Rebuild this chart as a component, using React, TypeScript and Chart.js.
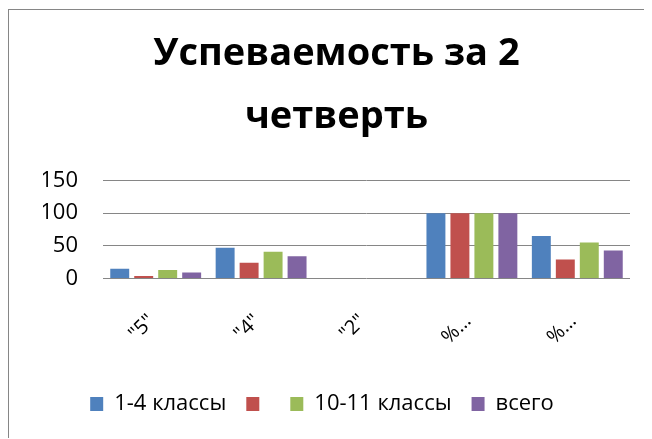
import React, { useEffect, useRef } from "react";
import { Chart, registerables } from "chart.js";

Chart.register(...registerables);

const titleLines = ["Успеваемость за 2", "четверть"];
const categories = ['"5"', '"4"', '"2"', "% успеваемости", "% качества"];
const seriesNames = ["1-4 классы", "", "10-11 классы", "всего"];
const series14 = [15, 47, 0, 100, 65];
const series59 = [4, 24, 0, 100, 29];
const series1011 = [13, 41, 0, 100, 55];
const seriesAll = [9, 34, 0, 100, 43];
const yTicks = [0, 50, 100, 150];
const colors = ["#4F81BD", "#C0504D", "#9BBB59", "#8064A2"];

const FONT = "'Open Sans', sans-serif";

// shifts the legend box so it is centred a little left of the title, as in the original
const legendShift = {
  id: "legendShift",
  afterLayout(chart: any) {
    if (chart.legend) {
      chart.legend.left = 5;
    }
  },
};

export default function App() {
  const ref = useRef<HTMLCanvasElement | null>(null);

  useEffect(() => {
    if (!ref.current) return;
    const values = [series14, series59, series1011, seriesAll];
    const chart = new Chart(ref.current, {
      type: "bar",
      data: {
        labels: categories,
        datasets: values.map((v, i) => ({
          label: seriesNames[i],
          data: v,
          backgroundColor: colors[i],
          borderWidth: 0,
          categoryPercentage: 0.91,
          barPercentage: 0.79,
        })),
      },
      plugins: [legendShift],
      options: {
        animation: false,
        responsive: false,
        maintainAspectRatio: false,
        layout: { padding: { left: 34, right: 22, top: 0, bottom: 14 } },
        plugins: {
          tooltip: { enabled: false },
          title: {
            display: true,
            text: titleLines,
            color: "#000",
            font: { family: FONT, size: 38, weight: "bold", lineHeight: 1.642 },
            padding: { top: 13.3, bottom: 32.4 },
          },
          legend: {
            position: "bottom",
            labels: {
              color: "#000",
              font: { family: FONT, size: 22 },
              boxWidth: 13,
              boxHeight: 14,
              padding: 20,
            },
          },
        },
        scales: {
          x: {
            grid: { display: false, drawTicks: false },
            border: { display: false },
            ticks: {
              color: "#000",
              font: { family: FONT, size: 20 },
              minRotation: 45,
              maxRotation: 45,
              padding: 31,
              labelOffset: -4,
              callback: function (this: any, val: any) {
                const s = String(this.getLabelForValue(val));
                return s.length > 4 ? s[0] + "…" : s;
              },
            },
            afterFit: (scale: any) => {
              scale.height = 94.5;
            },
          },
          y: {
            min: 0,
            max: 150,
            afterBuildTicks: (scale: any) => {
              scale.ticks = yTicks.map((v) => ({ value: v }));
            },
            grid: { color: "#868686", drawTicks: false, lineWidth: 1 },
            border: { display: false },
            ticks: {
              color: "#000",
              font: { family: FONT, size: 22 },
              padding: 25,
            },
            afterFit: (scale: any) => {
              scale.width = 60;
            },
          },
        },
      },
    });
    return () => chart.destroy();
  }, []);

  return (
    <div
      style={{
        position: "relative",
        top: 1,
        width: 644,
        height: 430,
        borderLeft: "1px solid #868686",
        borderTop: "1px solid #868686",
        boxSizing: "border-box",
        overflow: "hidden",
      }}
    >
      <canvas ref={ref} width={643} height={429} style={{ display: "block" }} />
    </div>
  );
}
